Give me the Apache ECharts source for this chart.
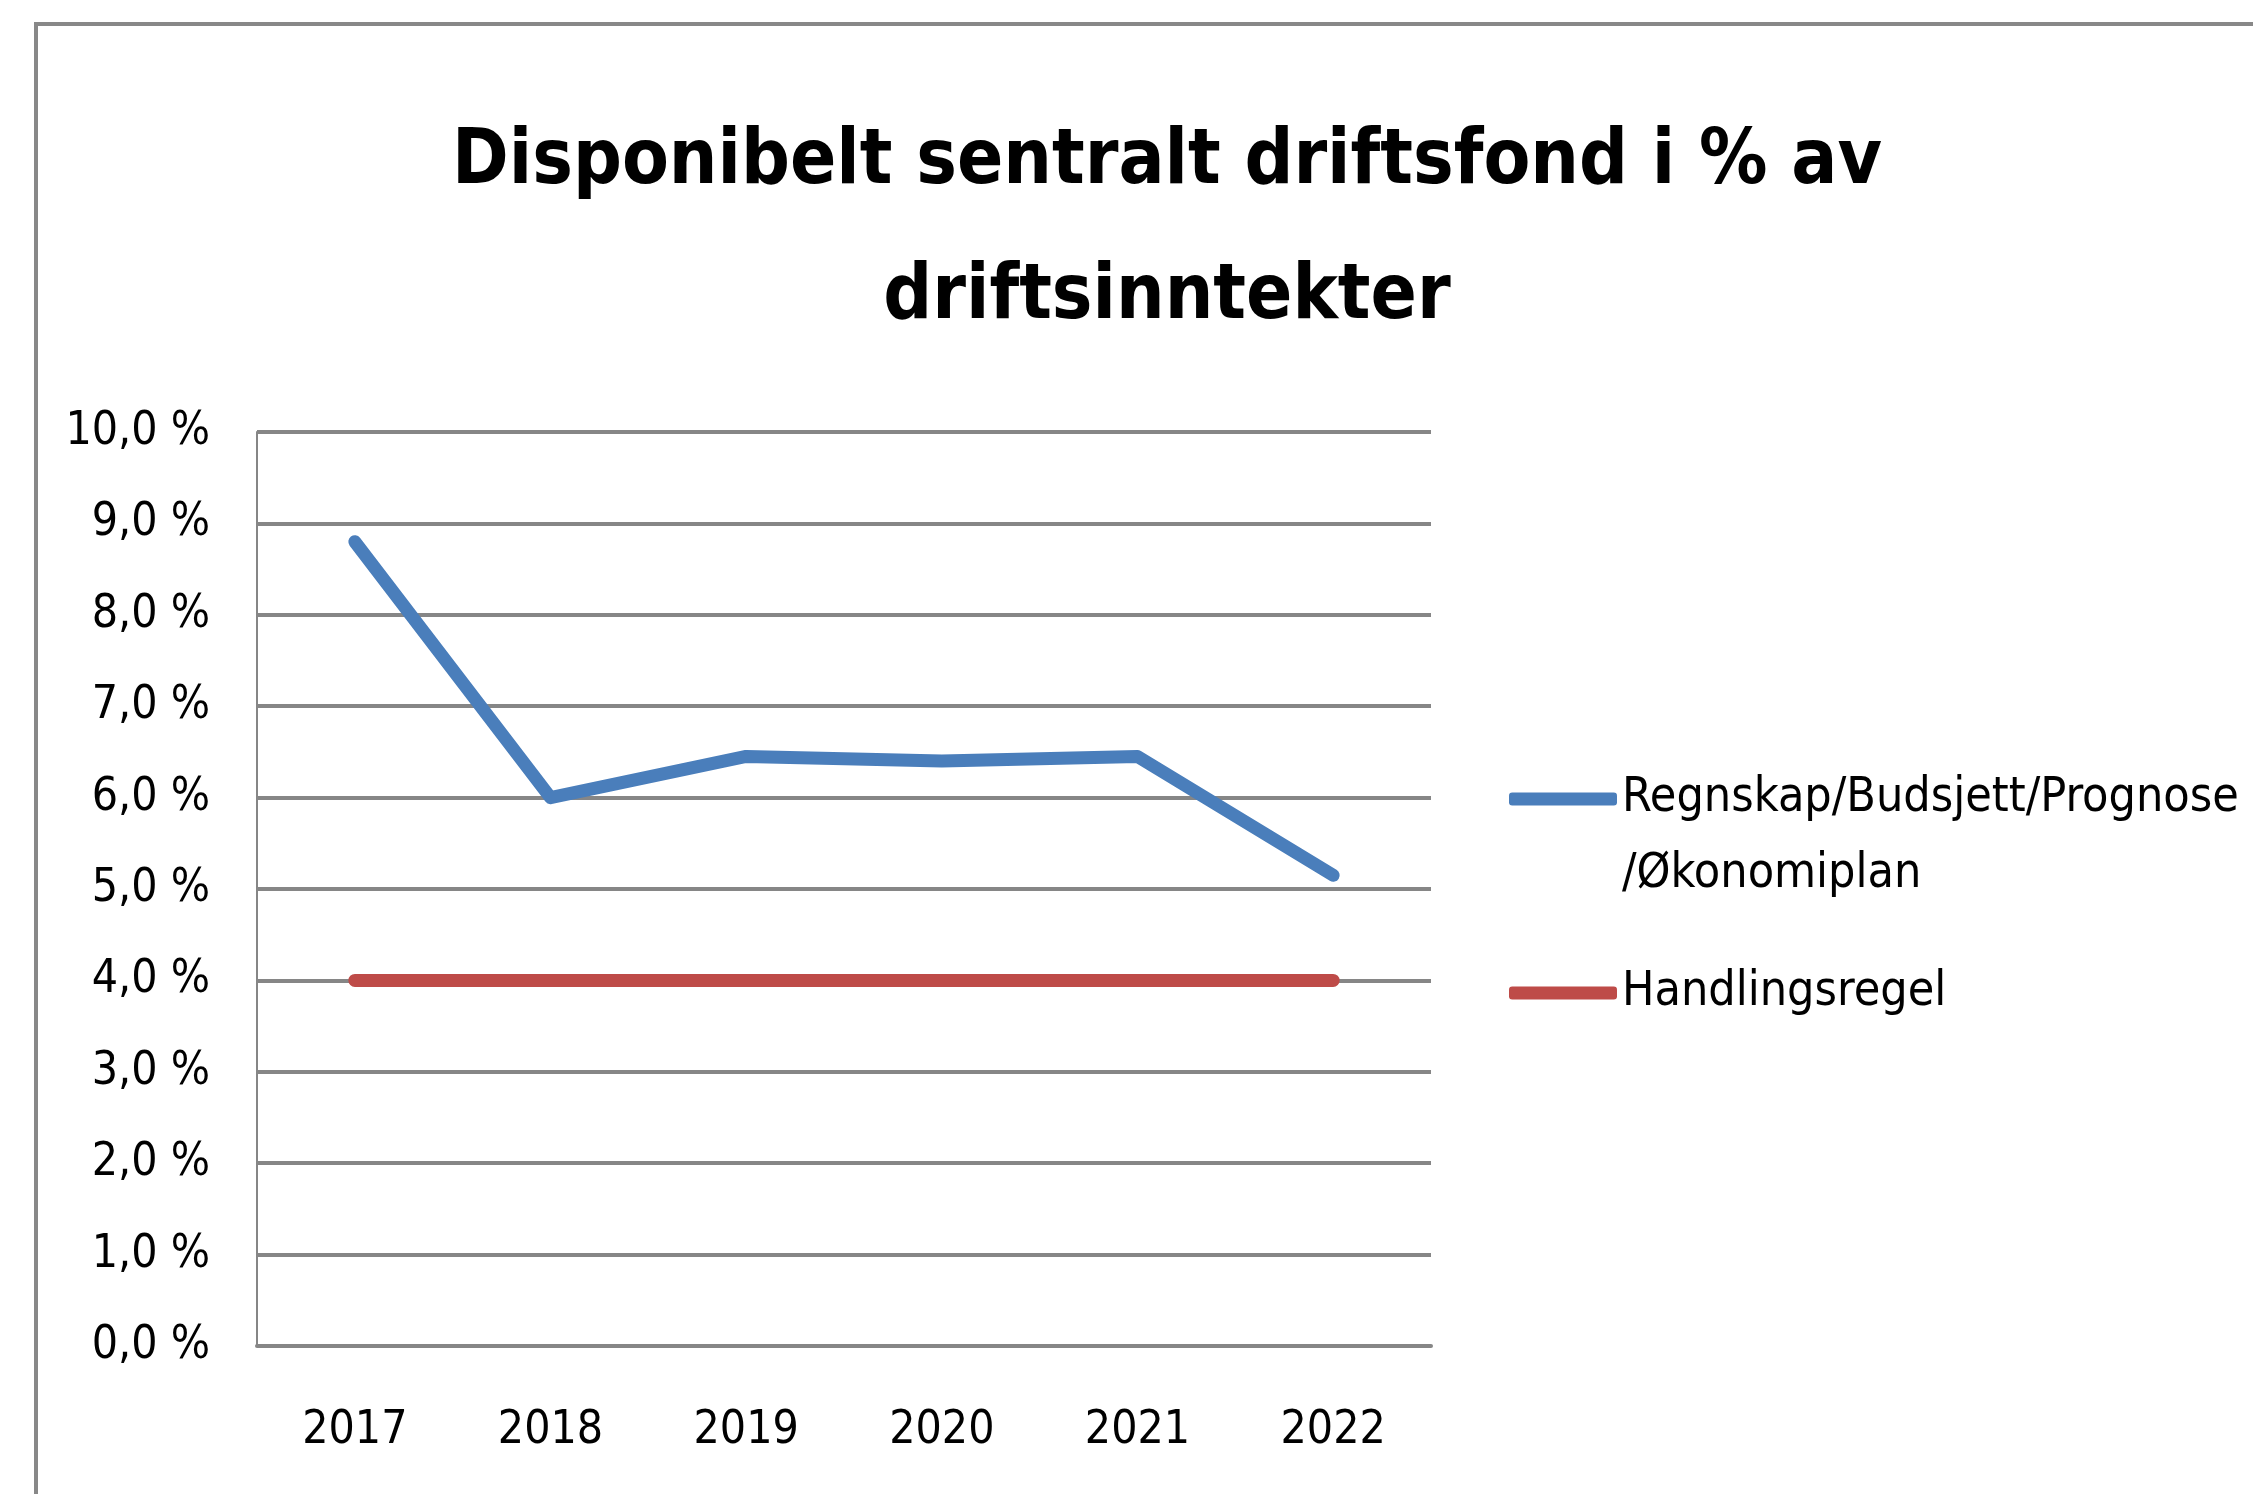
<!DOCTYPE html>
<html>
<head>
<meta charset="utf-8">
<script src="https://cdn.jsdelivr.net/npm/echarts@6/dist/echarts.min.js"></script>
<style>
  html, body { margin: 0; padding: 0; background: #fff; }
  #chart { width: 2253px; height: 1494px; }
</style>
</head>
<body>
<div id="chart"></div>
<script>
// 数据
const years = ['2017', '2018', '2019', '2020', '2021', '2022']
const regnskap = [8.8, 6.0, 6.45, 6.4, 6.45, 5.15]
const handlingsregel = [4.0, 4.0, 4.0, 4.0, 4.0, 4.0]
const seriesNames = ['Regnskap/Budsjett/Prognose', 'Handlingsregel']

const font = "'Liberation Sans Narrow', 'DejaVu Sans Condensed', 'Liberation Sans', sans-serif"

const chart = echarts.init(document.getElementById('chart'))

const option = {
    backgroundColor: '#fff',
    animation: false,
    // 外框
    graphic: [
        {
            type: 'rect',
            shape: { x: 36, y: 24, width: 2400, height: 1600 },
            style: { fill: 'none', stroke: '#888', lineWidth: 4 },
        },
    ],
    title: {
        text: 'Disponibelt sentralt driftsfond i % av\ndriftsinntekter',
        left: 1162,
        top: 91,
        textAlign: 'center',
        textStyle: {
            fontFamily: font,
            fontSize: 76,
            fontWeight: 'bold',
            color: '#000',
            lineHeight: 135,
        },
    },
    legend: {
        orient: 'vertical',
        left: 1509,
        top: 685,
        padding: 0,
        itemGap: 42,
        itemWidth: 108,
        itemHeight: 13,
        data: seriesNames.map((n) => ({ name: n, icon: 'roundRect' })),
        // 第一项: 空行在上, 让首行与图标对齐
        formatter: (name) => (name === seriesNames[0] ? '\n' + name + '\n/Økonomiplan' : name),
        textStyle: {
            fontFamily: font,
            fontSize: 48,
            color: '#000',
            lineHeight: 76,
        },
    },
    grid: {
        left: 257,
        top: 432,
        right: 822,
        bottom: 148,
    },
    xAxis: {
        type: 'category',
        data: years,
        boundaryGap: true,
        axisLine: { lineStyle: { color: '#868686', width: 4 } },
        axisTick: { show: false },
        axisLabel: {
            margin: 62,
            fontFamily: font,
            fontSize: 46,
            color: '#000',
        },
    },
    yAxis: {
        type: 'value',
        min: 0,
        max: 10,
        interval: 1,
        axisLine: { show: true, lineStyle: { color: '#868686', width: 2 } },
        axisTick: { show: false },
        splitLine: { lineStyle: { color: '#868686', width: 4 } },
        axisLabel: {
            margin: 47,
            fontFamily: font,
            fontSize: 46,
            color: '#000',
            formatter: (v) => v.toFixed(1).replace('.', ',') + ' %',
        },
    },
    series: [
        {
            name: seriesNames[0],
            type: 'line',
            data: regnskap,
            showSymbol: false,
            symbol: 'none',
            lineStyle: { color: '#4a7ebb', width: 13, cap: 'round', join: 'round' },
            itemStyle: { color: '#4a7ebb' },
        },
        {
            name: seriesNames[1],
            type: 'line',
            data: handlingsregel,
            showSymbol: false,
            symbol: 'none',
            lineStyle: { color: '#be4b48', width: 13, cap: 'round' },
            itemStyle: { color: '#be4b48' },
        },
    ],
}

chart.setOption(option)
</script>
</body>
</html>
